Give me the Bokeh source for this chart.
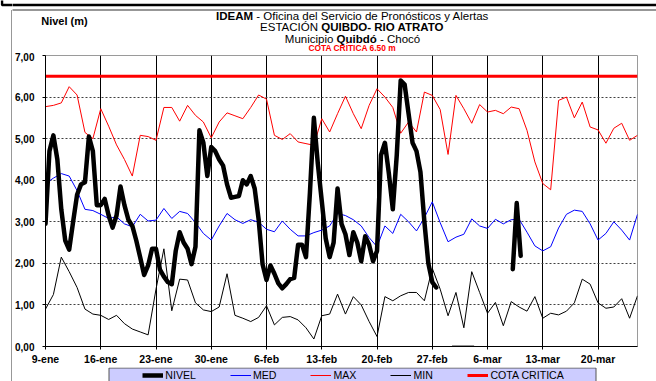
from bokeh.plotting import figure
from bokeh.layouts import row, column
from bokeh.models import Range1d, FixedTicker, Legend, LegendItem, Label
from bokeh.embed import file_html
from bokeh.resources import INLINE

NAN = float("nan")
FONT = "Liberation Sans"

# days counted from 9-ene
DIAS = list(range(76))

MAX = [5.77, 5.80, 5.86, 6.25, 6.05, 5.15, 5.00, 5.72, 5.30, 4.85,
       4.50, 4.10, 5.08, 5.05, 4.96, 5.75, 5.75, 5.42, 5.80, 5.56,
       5.40, 5.02, 5.40, 5.62, 5.55, 5.48, 5.75, 6.05, 5.95, 5.08,
       4.98, 5.12, 4.92, 4.88, 4.84, 5.48, 5.16, 5.60, 6.02, 5.60,
       5.24, 5.80, 6.20, 6.00, 5.75, 5.13, 5.40, 5.16, 6.12, 6.04,
       5.70, 4.62, 6.04, 5.72, 5.37, 5.82, 5.64, 5.68, 5.60, 5.76,
       5.72, 5.20, 4.44, 3.92, 3.77, 5.92, 6.00, 5.50, 5.88, 5.28,
       5.21, 4.89, 5.25, 5.37, 4.96, 5.08]

MED = [3.92, 4.05, 4.16, 4.10, 3.75, 3.30, 3.27, 3.18, 3.08, 3.12,
       2.95, 2.88, 3.18, 3.02, 3.04, 3.32, 3.08, 3.25, 3.20, 2.98,
       2.72, 2.56, 2.90, 3.20, 3.05, 2.96, 3.05, 2.99, 2.82, 2.76,
       3.02, 2.82, 2.66, 2.66, 2.74, 2.80, 2.90, 3.20, 3.15, 3.05,
       2.90, 2.62, 2.40, 2.90, 2.72, 3.18, 3.00, 2.78, 3.10, 3.48,
       2.98, 2.52, 2.63, 2.70, 3.07, 2.90, 2.84, 3.06, 2.95, 3.05,
       3.06, 2.75, 2.42, 2.30, 2.40, 2.85, 3.18, 3.28, 3.25, 2.95,
       2.56, 2.72, 3.00, 2.80, 2.56, 3.18]

MIN = [0.90, 1.25, 2.15, 1.80, 1.42, 0.90, 0.78, 0.75, 0.65, 0.75,
       0.55, 0.42, 0.35, 0.28, 1.38, 2.35, 0.86, 1.62, 1.60, 1.05,
       0.88, 0.84, 0.95, 1.75, 0.75, 0.68, 0.60, 0.70, 0.98, 0.52,
       0.70, 0.72, 0.64, 0.45, 0.18, 0.74, 0.78, 1.26, 0.78, 1.20,
       1.00, 0.60, 0.24, 1.20, 1.10, 1.22, 1.30, 1.30, 1.10, 1.88,
       1.38, 0.74, 1.30, 0.45, 1.80, 1.30, 0.80, 1.06, 0.50, 1.08,
       0.95, 0.85, 1.20, 0.68, 0.80, 0.76, 0.85, 1.05, 1.62, 1.50,
       1.05, 0.92, 0.95, 1.15, 0.68, 1.22]

# two readings per day
NIVEL_DIAS = [i / 2 for i in range(100)] + [NAN, 59.2, 59.7, 60.2]
NIVEL = [2.95, 4.70, 5.08, 4.50, 3.30, 2.55, 2.33, 3.00, 3.65, 3.90,
         3.95, 5.05, 4.70, 3.40, 3.40, 3.55, 3.15, 2.86, 3.15, 3.85,
         3.40, 3.05, 2.90, 2.55, 2.14, 1.72, 1.95, 2.35, 2.35, 1.85,
         1.68, 1.55, 1.50, 2.30, 2.75, 2.50, 2.35, 1.98, 2.40, 5.20,
         4.90, 4.10, 4.80, 4.70, 4.50, 4.35, 3.90, 3.58, 3.60, 3.62,
         4.00, 3.90, 4.10, 3.80, 3.06, 1.98, 1.60, 1.95, 1.75, 1.52,
         1.40, 1.50, 1.62, 1.65, 2.45, 2.45, 2.15, 3.70, 5.50, 4.40,
         3.50, 2.60, 2.15, 2.50, 3.80, 2.95, 2.70, 2.20, 2.75, 2.50,
         2.05, 2.65, 2.45, 2.05, 2.30, 4.60, 4.90, 4.16, 3.30, 4.60,
         6.40, 6.30, 5.60, 4.90, 4.70, 4.20, 3.00, 2.00, 1.55, 1.42,
         NAN, 1.86, 3.45, 2.18]

SIN_DATO_DIAS = [51.5, 54.3]
SIN_DATO = [0.0, 0.0]

COTA_CRITICA = 6.5

X_TICKS = [0, 7, 14, 21, 28, 35, 42, 49, 56, 63, 70]
X_LABELS = ["9-ene", "16-ene", "23-ene", "30-ene", "6-feb", "13-feb",
            "20-feb", "27-feb", "6-mar", "13-mar", "20-mar"]
Y_TICKS = [0, 1, 2, 3, 4, 5, 6, 7]
Y_LABELS = ["0,00", "1,00", "2,00", "3,00", "4,00", "5,00", "6,00", "7,00"]

LEGEND_LABELS = ["NIVEL", "MED", "MAX", "MIN", "COTA CRITICA"]

# ---------------- layout geometry (page pixels) ----------------
W, H = 656, 381
STRIP_W = 12                 # left strip holding the outer frame line
TOP_H = 52                   # title band
LEG_H = 14                   # legend band
MAIN_H = H - TOP_H - LEG_H   # plot band
MAIN_W = W - STRIP_W
FRAME_L, FRAME_R, FRAME_T, FRAME_B = 45, 637, 55, 347


def blank(width, height, x0, x1, y0, y1):
    f = figure(width=width, height=height, output_backend="svg",
               toolbar_location=None, x_range=Range1d(x0, x1),
               y_range=Range1d(y1, y0), x_axis_type=None, y_axis_type=None,
               min_border=0, min_border_left=0, min_border_right=0,
               min_border_top=0, min_border_bottom=0, frame_align=False,
               background_fill_color="white", border_fill_color="white")
    f.outline_line_color = None
    f.xgrid.visible = False
    f.ygrid.visible = False
    return f


# ---- left strip: page x 0..12, y 0..381 ----
left = blank(STRIP_W, H, 0, STRIP_W, 0, H)
left.line([11.5, 11.5], [9.5, H + 5], line_color="#303030", line_width=1)
left.line([1.5, 1.5, STRIP_W + 1], [-2, 4.5, 4.5], line_color="black", line_width=2.5)

# ---- title band: page x 12..656, y 0..52 ----
top = blank(MAIN_W, TOP_H, STRIP_W, W, 0, TOP_H)
top.line([STRIP_W - 1, W + 2], [4.5, 4.5], line_color="black", line_width=2.5)
top.line([11.5, W + 2], [9.5, 9.5], line_color="#303030", line_width=1)


def txt(x, y, s, size, style="normal", align="left", color="black"):
    top.add_layout(Label(x=x, y=y, text=s, text_font=FONT, text_font_size=size,
                         text_font_style=style, text_align=align,
                         text_baseline="middle", text_color=color))


T = "11.5px"
SP = 3.2  # width of a space at 11.5px
txt(40.7, 20, "Nivel (m)", "11px", "bold")
txt(252.6, 15.7, "IDEAM", T, "bold", "right")
txt(252.6 + SP, 15.7, "- Oficina del Servicio de Pronósticos y Alertas", T)
txt(320.7 - SP, 26.7, "ESTACIÓN", T, "normal", "right")
txt(320.7, 26.7, "QUIBDO- RIO ATRATO", T, "bold")
txt(336.1 - SP, 38.3, "Municipio", T, "normal", "right")
txt(336.1, 38.3, "Quibdó", T, "bold")
txt(376.3 + SP, 38.3, "- Chocó", T)
txt(353, 47.2, "COTA CRÍTICA  6.50 m", "8.4px", "bold", "center", "#FF0000")

# ---- main chart ----
p = figure(width=MAIN_W, height=MAIN_H, output_backend="svg", toolbar_location=None,
           x_range=Range1d(0, 75), y_range=Range1d(0, 7), frame_align=False,
           min_border_left=FRAME_L - STRIP_W, min_border_right=W - FRAME_R,
           min_border_top=FRAME_T - TOP_H, min_border_bottom=TOP_H + MAIN_H - FRAME_B,
           background_fill_color="white", border_fill_color="white")
p.outline_line_color = "#9a9a9a"

p.xaxis.ticker = FixedTicker(ticks=X_TICKS)
p.xaxis.major_label_overrides = dict(zip(X_TICKS, X_LABELS))
p.yaxis.ticker = FixedTicker(ticks=Y_TICKS)
p.yaxis.major_label_overrides = dict(zip(Y_TICKS, Y_LABELS))
for ax in (p.xaxis, p.yaxis):
    ax.axis_line_color = "black"
    ax.major_tick_line_color = "black"
    ax.major_tick_out = 3
    ax.major_tick_in = 0
    ax.minor_tick_line_color = None
    ax.major_label_text_font = FONT
    ax.major_label_text_font_style = "bold"
    ax.major_label_text_color = "black"
p.xaxis.major_label_text_font_size = "10.5px"
p.yaxis.major_label_text_font_size = "10px"
p.xaxis.major_label_standoff = 3
p.yaxis.major_label_standoff = 8

p.xgrid.grid_line_color = "black"
p.xgrid.grid_line_alpha = 1
p.ygrid.grid_line_color = "#404040"
p.ygrid.grid_line_dash = "2 2"
p.ygrid.grid_line_alpha = 1

STYLE = {
    "NIVEL": dict(line_color="black", line_width=4.5),
    "MED": dict(line_color="#0000FF", line_width=1),
    "MAX": dict(line_color="#FF0000", line_width=1),
    "MIN": dict(line_color="black", line_width=1),
    "COTA CRITICA": dict(line_color="#FF0000", line_width=3),
}

p.line(DIAS, MIN, **STYLE["MIN"])
p.line(DIAS, MED, **STYLE["MED"])
p.line(DIAS, MAX, **STYLE["MAX"])
p.line(SIN_DATO_DIAS, SIN_DATO, line_color="#333333", line_width=2)
p.line(NIVEL_DIAS, NIVEL, line_join="round", line_cap="round", **STYLE["NIVEL"])
p.line([DIAS[0], DIAS[-1]], [COTA_CRITICA, COTA_CRITICA], **STYLE["COTA CRITICA"])

# ---- legend band: page x 12..656, y 367..381 ----
LEG_Y0 = H - LEG_H
leg = blank(MAIN_W, LEG_H, STRIP_W, W, LEG_Y0, H)
leg.quad(left=[108.5], right=[595.5], top=[367.5], bottom=[H + 10],
         fill_color="#CCCCFF", line_color="#555555", line_width=1)
items = []
for name in LEGEND_LABELS:
    r = leg.line([NAN], [NAN], **STYLE[name])   # legend swatch only
    items.append(LegendItem(label=name, renderers=[r]))
legend = Legend(items=items, orientation="horizontal",
                location=(142.3 - STRIP_W - 2, -2),
                padding=2, spacing=34, glyph_width=21, glyph_height=12,
                label_height=12, label_standoff=2, margin=0,
                label_text_font=FONT, label_text_font_size="10.6px",
                label_text_color="black",
                background_fill_alpha=0, border_line_alpha=0)
leg.add_layout(legend)

layout = row(left, column(top, p, leg, spacing=0), spacing=0)

open("out.html", "w").write(file_html(layout, INLINE))
